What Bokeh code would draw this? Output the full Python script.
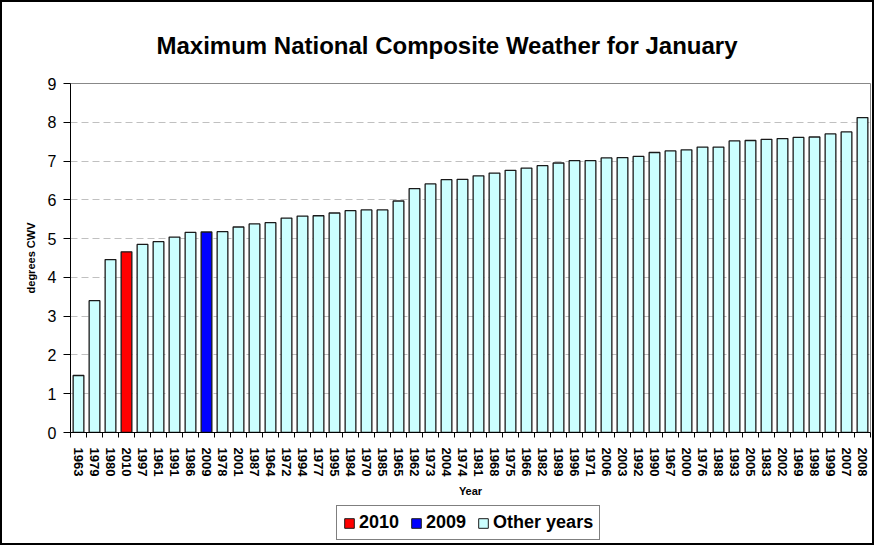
from bokeh.plotting import figure
from bokeh.layouts import column
from bokeh.models import ColumnDataSource, FixedTicker, Legend, LegendItem
from bokeh.embed import file_html
from bokeh.resources import INLINE

years = ["1963", "1979", "1980", "2010", "1997", "1961", "1991", "1986", "2009", "1978",
         "2001", "1987", "1964", "1972", "1994", "1977", "1995", "1984", "1970", "1985",
         "1965", "1962", "1973", "2004", "1974", "1981", "1968", "1975", "1966", "1982",
         "1989", "1996", "1971", "2006", "2003", "1992", "1990", "1967", "2000", "1976",
         "1988", "1993", "2005", "1983", "2002", "1969", "1998", "1999", "2007", "2008"]
values = [1.47, 3.40, 4.46, 4.66, 4.85, 4.92, 5.04, 5.16, 5.17, 5.18,
          5.30, 5.38, 5.41, 5.53, 5.58, 5.59, 5.66, 5.72, 5.74, 5.74,
          5.97, 6.29, 6.41, 6.52, 6.53, 6.62, 6.69, 6.76, 6.82, 6.88,
          6.95, 7.01, 7.01, 7.08, 7.09, 7.12, 7.22, 7.26, 7.29, 7.36,
          7.36, 7.52, 7.53, 7.56, 7.58, 7.61, 7.62, 7.70, 7.75, 8.12]
y_ticks = [0, 1, 2, 3, 4, 5, 6, 7, 8, 9]
title_text = "Maximum National Composite Weather for January"
legend_labels = ["2010", "2009", "Other years"]

FONT = "Liberation Sans"
W = 870

p = figure(width=W, height=498, output_backend="svg", toolbar_location=None,
           x_range=(-0.5, len(years) - 0.5), y_range=(0, 9),
           min_border_left=68, min_border_right=2, min_border_top=81, min_border_bottom=60)

p.title.text = title_text
p.title.text_font = FONT
p.title.text_font_size = "24px"
p.title.text_font_style = "bold"
p.title.text_color = "black"
p.title.align = "left"
p.title.offset = 86
p.title.standoff = 50

idx = list(range(len(years)))

def subset(pred):
    xs = [i for i, y in zip(idx, years) if pred(y)]
    vs = [values[i] for i in xs]
    return ColumnDataSource(dict(x=xs, top=vs))

src_2010 = subset(lambda y: y == "2010")
src_2009 = subset(lambda y: y == "2009")
src_other = subset(lambda y: y not in ("2010", "2009"))

styles = [(src_other, "#CCFFFF"), (src_2010, "#FF0000"), (src_2009, "#0000FF")]

rs = []
for src, col in styles:
    rs.append(p.vbar(x="x", top="top", width=0.67, source=src,
                     fill_color=col, line_color="#1a1a1a", line_width=1.3))

# x axis
p.xaxis.ticker = FixedTicker(ticks=idx, minor_ticks=[i - 0.5 for i in idx] + [len(idx) - 0.5])
p.xaxis.major_label_overrides = {i: y for i, y in zip(idx, years)}
p.xaxis.major_label_orientation = "vertical"
p.xaxis.major_label_text_font = FONT
p.xaxis.major_label_text_font_size = "13px"
p.xaxis.major_label_text_font_style = "bold"
p.xaxis.major_label_text_color = "black"
p.xaxis.major_tick_line_color = None
p.xaxis.major_tick_in = 0
p.xaxis.major_tick_out = 0
p.xaxis.minor_tick_in = 0
p.xaxis.minor_tick_out = 5
p.xaxis.minor_tick_line_color = "black"
p.xaxis.axis_line_color = "black"
p.xaxis.axis_label = "Year"
p.xaxis.axis_label_text_font = FONT
p.xaxis.axis_label_text_font_size = "11px"
p.xaxis.axis_label_text_font_style = "bold"
p.xaxis.axis_label_text_color = "black"
p.xaxis.axis_label_standoff = 6
p.xaxis.major_label_standoff = 10

# y axis
p.yaxis.ticker = FixedTicker(ticks=y_ticks)
p.yaxis.major_label_text_font = FONT
p.yaxis.major_label_text_font_size = "16px"
p.yaxis.major_label_text_color = "black"
p.yaxis.major_tick_in = 0
p.yaxis.major_tick_out = 7
p.yaxis.major_tick_line_color = "black"
p.yaxis.minor_tick_line_color = None
p.yaxis.axis_line_color = "black"
p.yaxis.axis_label = "degrees CWV"
p.yaxis.axis_label_text_font = FONT
p.yaxis.axis_label_text_font_size = "11px"
p.yaxis.axis_label_text_font_style = "bold"
p.yaxis.axis_label_text_color = "black"
p.yaxis.axis_label_standoff = 8
p.yaxis.major_label_standoff = 7

p.xgrid.grid_line_color = None
p.ygrid.grid_line_color = "#C0C0C0"
p.ygrid.grid_line_dash = "7 4"
p.ygrid.grid_line_width = 1

p.outline_line_color = "#888888"
p.outline_line_width = 1
p.background_fill_color = "white"
p.border_fill_color = "white"

# legend strip below the chart (legend renderers share the same sources, out of view)
leg = figure(width=W, height=43, output_backend="svg", toolbar_location=None,
             x_range=(1000, 1001), y_range=(1000, 1001),
             min_border=0, min_border_left=0, min_border_right=0,
             min_border_top=0, min_border_bottom=0)
leg.axis.visible = False
leg.grid.visible = False
leg.outline_line_color = None
leg.border_fill_color = "white"
leg.background_fill_color = "white"
lrs = []
for src, col in styles:
    lrs.append(leg.vbar(x="x", top="top", width=0.67, source=src,
                        fill_color=col, line_color="#1a1a1a", line_width=1))

legend = Legend(items=[LegendItem(label=legend_labels[0], renderers=[lrs[1]]),
                       LegendItem(label=legend_labels[1], renderers=[lrs[2]]),
                       LegendItem(label=legend_labels[2], renderers=[lrs[0]])],
                orientation="horizontal", location=(266, 3))
legend.label_text_font = FONT
legend.label_text_font_size = "18px"
legend.label_text_font_style = "bold"
legend.label_text_color = "black"
legend.glyph_width = 12
legend.glyph_height = 12
legend.label_standoff = 4
legend.spacing = 11
legend.padding = 6
legend.margin = 0
legend.label_height = 16
legend.border_line_color = "black"
legend.border_line_width = 1
legend.background_fill_alpha = 1
leg.add_layout(legend, "center")

layout = column(p, leg, spacing=0)
layout.styles = {"border": "2px solid black"}

open("out.html", "w").write(file_html(layout, INLINE))
